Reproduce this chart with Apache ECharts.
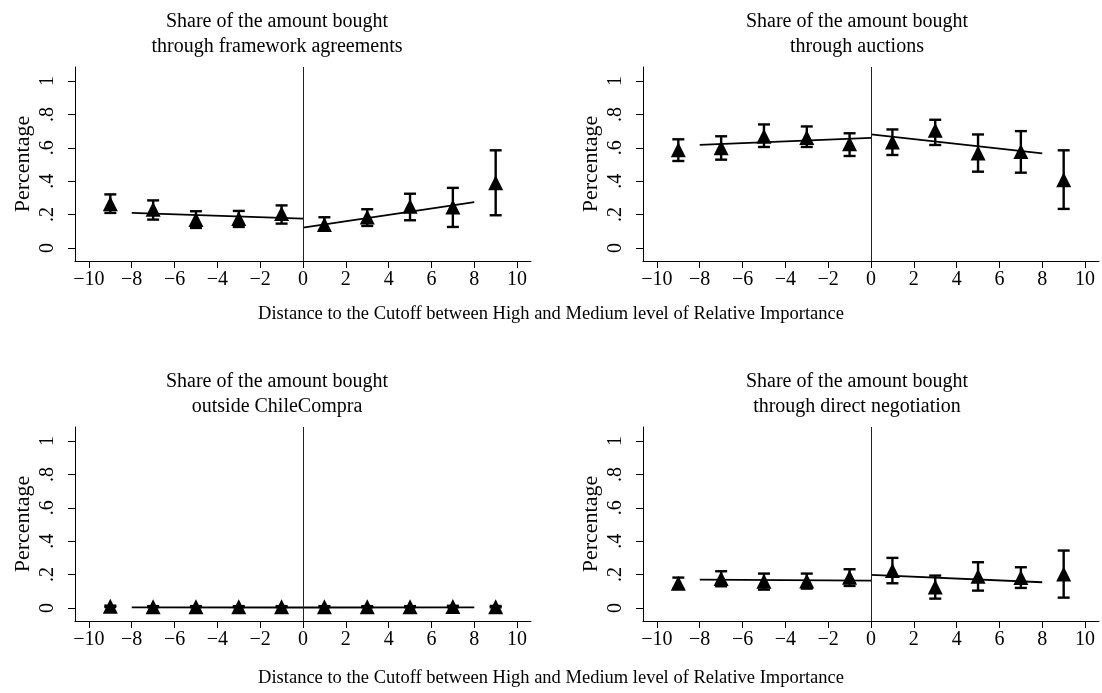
<!DOCTYPE html>
<html>
<head>
<meta charset="utf-8">
<script src="https://cdn.jsdelivr.net/npm/echarts@6/dist/echarts.min.js"></script>
<style>
  html, body { margin: 0; padding: 0; background: #fff; }
  #chart { width: 1102px; height: 693px; }
</style>
</head>
<body>
<div id="chart"></div>
<script>
// Bin midpoints (distance to the cutoff) and axis ticks
const bins = [-9, -7, -5, -3, -1, 1, 3, 5, 7, 9];
const xTicks = [-10, -8, -6, -4, -2, 0, 2, 4, 6, 8, 10];
const yTicks = [0, 0.2, 0.4, 0.6, 0.8, 1];

// Framework agreements
const frameMean = [0.265, 0.232, 0.170, 0.176, 0.206, 0.140, 0.186, 0.250, 0.245, 0.390];
const frameLow  = [0.210, 0.170, 0.120, 0.126, 0.146, 0.106, 0.132, 0.166, 0.126, 0.196];
const frameHigh = [0.321, 0.285, 0.220, 0.222, 0.255, 0.184, 0.232, 0.325, 0.360, 0.585];
const frameFitLeft  = [[-8, 0.210], [0, 0.176]];
const frameFitRight = [[0, 0.122], [8, 0.275]];

// Auctions
const auctMean = [0.589, 0.600, 0.669, 0.662, 0.625, 0.635, 0.705, 0.569, 0.578, 0.408];
const auctLow  = [0.521, 0.529, 0.605, 0.605, 0.551, 0.557, 0.617, 0.457, 0.451, 0.234];
const auctHigh = [0.651, 0.669, 0.740, 0.728, 0.687, 0.710, 0.768, 0.680, 0.700, 0.585];
const auctFitLeft  = [[-8, 0.617], [0, 0.660]];
const auctFitRight = [[0, 0.680], [8, 0.567]];

// Outside ChileCompra
const outMean = [0.010, 0.008, 0.008, 0.008, 0.008, 0.008, 0.008, 0.008, 0.009, 0.008];
const outLow  = [0.006, 0.005, 0.005, 0.005, 0.005, 0.005, 0.005, 0.005, 0.005, 0.004];
const outHigh = [0.014, 0.011, 0.011, 0.011, 0.011, 0.011, 0.011, 0.011, 0.013, 0.012];
const outFitLeft  = [[-8, 0.004], [0, 0.003]];
const outFitRight = [[0, 0.003], [8, 0.004]];

// Direct negotiation
const directMean = [0.148, 0.176, 0.160, 0.162, 0.184, 0.224, 0.125, 0.190, 0.182, 0.204];
const directLow  = [0.116, 0.130, 0.110, 0.116, 0.132, 0.148, 0.056, 0.104, 0.120, 0.062];
const directHigh = [0.182, 0.220, 0.206, 0.206, 0.232, 0.300, 0.194, 0.274, 0.244, 0.344];
const directFitLeft  = [[-8, 0.170], [0, 0.164]];
const directFitRight = [[0, 0.198], [8, 0.154]];

const panelTitles = [
  ['Share of the amount bought', 'through framework agreements'],
  ['Share of the amount bought', 'through auctions'],
  ['Share of the amount bought', 'outside ChileCompra'],
  ['Share of the amount bought', 'through direct negotiation']
];
const xTitle = 'Distance to the Cutoff between High and Medium level of Relative Importance';
const yTitle = 'Percentage';

const panels = [
  { mean: frameMean,  low: frameLow,  high: frameHigh,  fitL: frameFitLeft,  fitR: frameFitRight },
  { mean: auctMean,   low: auctLow,   high: auctHigh,   fitL: auctFitLeft,   fitR: auctFitRight },
  { mean: outMean,    low: outLow,    high: outHigh,    fitL: outFitLeft,    fitR: outFitRight },
  { mean: directMean, low: directLow, high: directHigh, fitL: directFitLeft, fitR: directFitRight }
];

const FONT = 'Liberation Serif';
const INK = '#000';

// Layout of the 2x2 panels
const gridBoxes = [
  { left: 75,  top: 67,  width: 456, height: 194 },
  { left: 643, top: 67,  width: 456, height: 194 },
  { left: 75,  top: 427, width: 456, height: 194 },
  { left: 643, top: 427, width: 456, height: 194 }
];
const titleCenters = [277, 857, 277, 857];

const fmtX = v => (v < 0 ? '\u2212' + Math.abs(v) : String(v));
const fmtY = v => (v === 0 ? '0' : v === 1 ? '1' : String(+v.toFixed(1)).replace(/^0/, ''));

const grid = [], xAxis = [], yAxis = [], series = [], graphic = [];

panels.forEach((p, k) => {
  grid.push(Object.assign({ containLabel: false }, gridBoxes[k]));

  xAxis.push({
    type: 'value', gridIndex: k, min: -10.65, max: 10.65,
    axisLine: { show: true, onZero: false, lineStyle: { color: INK, width: 1 } },
    axisTick: { show: true, length: 7, customValues: xTicks, lineStyle: { color: INK, width: 1 } },
    axisLabel: { customValues: xTicks, formatter: fmtX, margin: 9,
      fontFamily: FONT, fontSize: 20, color: INK },
    splitLine: { show: false }
  });

  yAxis.push({
    type: 'value', gridIndex: k, min: -0.078, max: 1.084,
    name: yTitle, nameLocation: 'middle', nameGap: 41, nameRotate: 90,
    nameTextStyle: { fontFamily: FONT, fontSize: 22, color: INK },
    axisLine: { show: true, onZero: false, lineStyle: { color: INK, width: 1 } },
    axisTick: { show: true, length: 7, customValues: yTicks, lineStyle: { color: INK, width: 1 } },
    axisLabel: { customValues: yTicks, formatter: fmtY, rotate: 90, margin: 17,
      fontFamily: FONT, fontSize: 20, color: INK },
    splitLine: { show: false }
  });

  // confidence intervals as capped vertical bars
  series.push({
    type: 'custom', xAxisIndex: k, yAxisIndex: k, z: 2,
    data: bins.map((x, i) => [x, p.low[i], p.high[i]]),
    encode: { x: 0, y: [1, 2] },
    renderItem: (params, api) => {
      const x = api.value(0);
      const lo = api.coord([x, api.value(1)]);
      const hi = api.coord([x, api.value(2)]);
      const w = 6;
      const st = { stroke: INK, lineWidth: 2.4 };
      return {
        type: 'group',
        children: [
          { type: 'line', shape: { x1: lo[0], y1: lo[1], x2: hi[0], y2: hi[1] }, style: st },
          { type: 'line', shape: { x1: lo[0] - w, y1: lo[1], x2: lo[0] + w, y2: lo[1] }, style: st },
          { type: 'line', shape: { x1: hi[0] - w, y1: hi[1], x2: hi[0] + w, y2: hi[1] }, style: st }
        ]
      };
    }
  });

  // bin means
  series.push({
    type: 'scatter', xAxisIndex: k, yAxisIndex: k, z: 3,
    symbol: 'triangle', symbolSize: [15, 15],
    itemStyle: { color: INK, opacity: 1 },
    data: bins.map((x, i) => [x, p.mean[i]])
  });

  // linear fits on each side of the cutoff, plus the cutoff line
  series.push({
    type: 'line', xAxisIndex: k, yAxisIndex: k, z: 2,
    data: p.fitL, showSymbol: false, symbol: 'none',
    lineStyle: { color: INK, width: 1.8 },
    markLine: {
      silent: true, symbol: ['none', 'none'], label: { show: false },
      lineStyle: { color: '#222', width: 1, type: 'solid' },
      data: [{ xAxis: 0 }]
    }
  });
  series.push({
    type: 'line', xAxisIndex: k, yAxisIndex: k, z: 2,
    data: p.fitR, showSymbol: false, symbol: 'none',
    lineStyle: { color: INK, width: 1.8 }
  });

  // panel title, two lines
  const cx = titleCenters[k];
  const baseY = k < 2 ? 0 : 360;
  graphic.push({
    type: 'text', x: cx, y: baseY + 22,
    style: { text: panelTitles[k][0], textAlign: 'center', textVerticalAlign: 'middle',
      font: '20px "' + FONT + '"', fill: INK }
  });
  graphic.push({
    type: 'text', x: cx, y: baseY + 47,
    style: { text: panelTitles[k][1], textAlign: 'center', textVerticalAlign: 'middle',
      font: '20px "' + FONT + '"', fill: INK }
  });
});

// shared x-axis titles below each row
[314, 678].forEach(y => {
  graphic.push({
    type: 'text', x: 551, y: y,
    style: { text: xTitle, textAlign: 'center', textVerticalAlign: 'middle',
      font: '18.5px "' + FONT + '"', fill: INK }
  });
});

const chart = echarts.init(document.getElementById('chart'));
chart.setOption({
  animation: false,
  backgroundColor: '#fff',
  grid, xAxis, yAxis, series, graphic
});
</script>
</body>
</html>
